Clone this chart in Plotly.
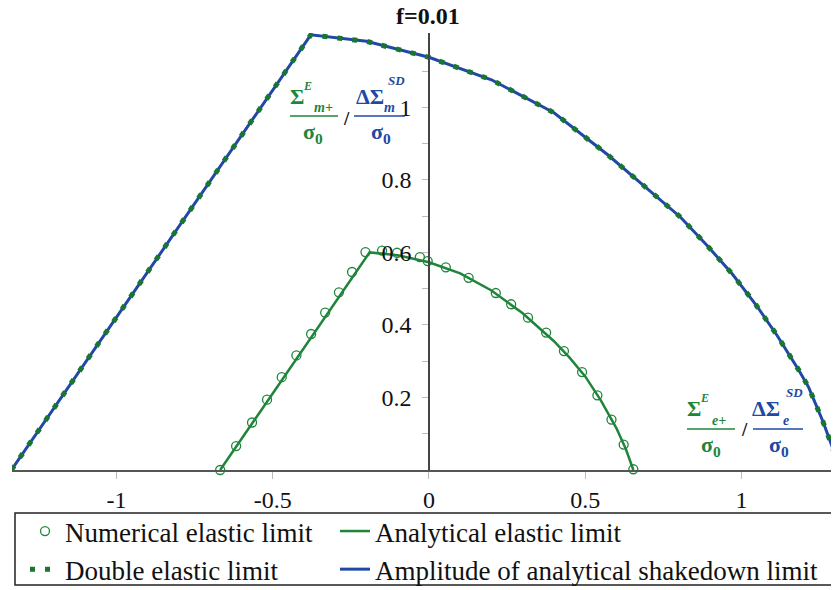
import plotly.graph_objects as go

# analytical elastic limit (green solid line)
elastic_x = [-0.668, -0.19, -0.1, 0.0, 0.1, 0.2, 0.3, 0.4, 0.45, 0.5, 0.55, 0.6, 0.63, 0.654]
elastic_y = [0.0, 0.600, 0.592, 0.573, 0.542, 0.495, 0.432, 0.355, 0.310, 0.258, 0.192, 0.115, 0.058, 0.0]

# numerical elastic limit (open circles)
num_x = [-0.668, -0.617, -0.566, -0.518, -0.471, -0.424, -0.377, -0.332, -0.288, -0.246, -0.203,
         -0.150, -0.102, -0.029, -0.004, 0.054, 0.127, 0.214, 0.263, 0.317, 0.375, 0.432,
         0.490, 0.539, 0.584, 0.623, 0.654]
num_y = [0.0, 0.066, 0.131, 0.194, 0.256, 0.316, 0.375, 0.434, 0.490, 0.546, 0.601,
         0.605, 0.599, 0.587, 0.576, 0.559, 0.530, 0.488, 0.457, 0.420, 0.379, 0.328,
         0.270, 0.206, 0.139, 0.070, 0.002]

# amplitude of analytical shakedown limit (blue)
sd_x = [-1.336, -0.378, -0.2, 0.0, 0.2, 0.4, 0.571, 0.709, 0.805, 0.89, 0.97, 1.045, 1.114, 1.183, 1.215, 1.26, 1.29, 1.312]
sd_y = [0.0, 1.200, 1.182, 1.138, 1.076, 0.985, 0.870, 0.769, 0.697, 0.619, 0.541, 0.457, 0.371, 0.276, 0.228, 0.135, 0.065, 0.0]

# double elastic limit (green dotted, lies on the blue curve)
dbl_x = [-1.336, -0.378, -0.2, 0.0, 0.2, 0.4, 0.571, 0.709, 0.805, 0.89, 0.97, 1.045, 1.114, 1.183, 1.215, 1.26, 1.29, 1.312]
dbl_y = [0.0, 1.200, 1.182, 1.138, 1.076, 0.985, 0.870, 0.769, 0.697, 0.619, 0.541, 0.457, 0.371, 0.276, 0.228, 0.135, 0.065, 0.0]

x_ticks = [-1, -0.5, 0, 0.5, 1]
x_ticktext = ["-1", "-0.5", "0", "0.5", "1"]
y_ticks = [0.2, 0.4, 0.6, 0.8, 1.0]
y_ticktext = ["0.2", "0.4", "0.6", "0.8", "1"]
y_minor = [0.1, 0.3, 0.5, 0.7, 0.9, 1.1]

GREEN = "#1e853b"
DKGREEN = "#17772f"
BLUE = "#2048a4"
SERIF = "Liberation Serif, Times New Roman, serif"

X_RANGE = [-1.334, 1.312]
Y_RANGE = [0, 1.205]
# page body has an 8px margin, so the figure is drawn from (8, 8) on screen
OFF = 8
FIG_W, FIG_H = 831, 582
L, T, W, H = 4, 25, 827, 437


def px(x):
    # screen pixel -> paper x
    return (x - OFF - L) / W


def py(y):
    # screen pixel -> paper y
    return 1 - (y - OFF - T) / H


fig = go.Figure()

fig.add_trace(go.Scatter(x=elastic_x, y=elastic_y, mode="lines", name="Analytical elastic limit",
                         line=dict(color=GREEN, width=2.5), legend="legend2", legendrank=1))
fig.add_trace(go.Scatter(x=num_x, y=num_y, mode="markers", name="Numerical elastic limit",
                         marker=dict(symbol="circle-open", size=9, color=GREEN, line=dict(width=1.3)),
                         cliponaxis=False, legend="legend", legendrank=1))
fig.add_trace(go.Scatter(x=sd_x, y=sd_y, mode="lines", name="Amplitude of analytical shakedown limit",
                         line=dict(color=BLUE, width=3), legend="legend2", legendrank=2))
fig.add_trace(go.Scatter(x=dbl_x, y=dbl_y, mode="lines", name="Double elastic limit",
                         line=dict(color=DKGREEN, width=5, dash="5px,10px"), legend="legend", legendrank=2))

fig.update_xaxes(range=X_RANGE, showgrid=False, zeroline=False, showline=True,
                 linecolor="#555", linewidth=1.5, ticks="outside", ticklen=7, tickcolor="#bbb",
                 tickvals=x_ticks, ticktext=x_ticktext, tickfont=dict(family=SERIF, size=24, color="#111"))
fig.update_yaxes(range=Y_RANGE, showgrid=False, zeroline=False, showline=True,
                 linecolor="#444", linewidth=1.5, anchor="free", position=-X_RANGE[0] / (X_RANGE[1] - X_RANGE[0]),
                 ticks="outside", ticklen=6, tickcolor="#bbb", ticklabelstandoff=6,
                 tickvals=y_ticks, ticktext=y_ticktext, tickfont=dict(family=SERIF, size=24, color="#111"),
                 minor=dict(tickvals=y_minor, ticks="outside", ticklen=6, tickcolor="#bbb"))

leg_font = dict(family=SERIF, size=27, color="#111")
fig.update_layout(
    width=FIG_W, height=FIG_H,
    margin=dict(l=L, r=0, t=T, b=FIG_H - T - H, autoexpand=False),
    plot_bgcolor="white", paper_bgcolor="white",
    showlegend=True,
    legend=dict(orientation="v", x=px(25), y=py(507), xanchor="left", yanchor="top",
                font=leg_font, bgcolor="rgba(0,0,0,0)", tracegroupgap=0),
    legend2=dict(orientation="v", x=px(335), y=py(507), xanchor="left", yanchor="top",
                 font=leg_font, bgcolor="rgba(0,0,0,0)", tracegroupgap=0),
)

# legend frame
fig.add_shape(type="rect", xref="paper", yref="paper", x0=px(15), x1=px(835), y0=py(585), y1=py(513),
              line=dict(color="#222", width=1.5))


def label(text, x, y, size, color, style="b", height=None):
    if style == "b":
        text = "<b>%s</b>" % text
    elif style == "bi":
        text = "<b><i>%s</i></b>" % text
    fig.add_annotation(text=text, xref="paper", yref="paper", height=height,
                       x=px(x), y=py(y), xanchor="center", yanchor="middle", showarrow=False,
                       font=dict(family=SERIF, size=size, color=color))


def bar(x0, x1, y, color):
    fig.add_shape(type="line", xref="paper", yref="paper", x0=px(x0), x1=px(x1), y0=py(y), y1=py(y),
                  line=dict(color=color, width=1.3))


# title
label("f=0.01", 428, 16, 24, "#111", height=16)

# upper-left label: Sigma^E_m+ / sigma0  /  DeltaSigma^SD_m / sigma0
label("Σ", 297, 96, 22, GREEN)
label("E", 307, 86, 12, GREEN, "bi")
label("m+", 323, 107, 14, GREEN, "bi")
bar(290, 338, 116, GREEN)
label("σ<sub>0</sub>", 313, 133, 22, GREEN)
label("/", 346, 118, 19, "#111")
label("ΔΣ", 370, 96, 22, BLUE)
label("SD", 396, 80, 13, BLUE, "bi")
label("m", 389, 107, 14, BLUE, "bi")
bar(354, 405, 116, BLUE)
label("σ<sub>0</sub>", 381, 133, 22, BLUE)

# lower-right label: Sigma^E_e+ / sigma0  /  DeltaSigma^SD_e / sigma0
label("Σ", 694, 408, 22, GREEN)
label("E", 704, 398, 12, GREEN, "bi")
label("e+", 719, 420, 14, GREEN, "bi")
bar(687, 735, 429, GREEN)
label("σ<sub>0</sub>", 711, 446, 22, GREEN)
label("/", 744, 429, 19, "#111")
label("ΔΣ", 766, 408, 22, BLUE)
label("SD", 794, 392, 13, BLUE, "bi")
label("e", 786, 420, 14, BLUE, "bi")
bar(753, 803, 429, BLUE)
label("σ<sub>0</sub>", 779, 446, 22, BLUE)

fig.write_html("out.html")
